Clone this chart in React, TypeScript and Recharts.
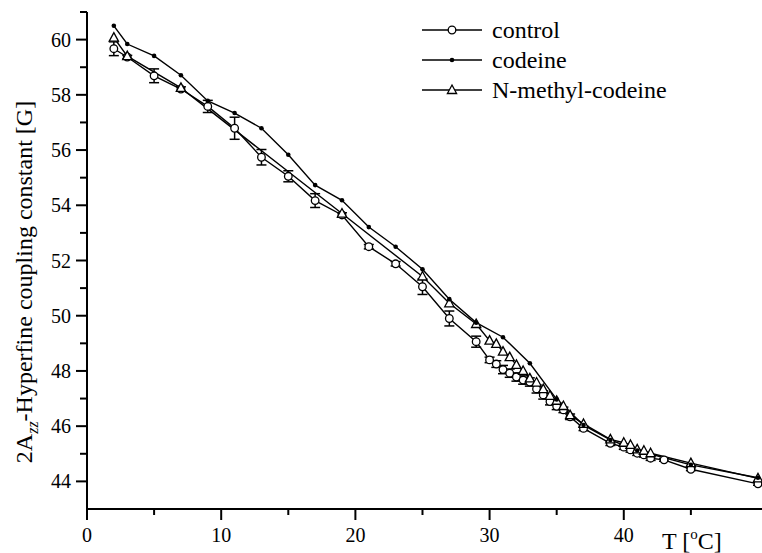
import React from 'react';
import { LineChart, Line, XAxis, YAxis, ErrorBar, Legend } from 'recharts';

const controlT = [2, 3, 5, 7, 9, 11, 13, 15, 17, 19, 21, 23, 25, 27, 29, 30, 30.5, 31, 31.5, 32, 32.5, 33, 33.5, 34, 34.5, 35, 35.5, 36, 37, 39, 40, 40.5, 41, 41.5, 42, 43, 45, 50];
const controlV = [59.67, 59.37, 58.69, 58.21, 57.58, 56.79, 55.74, 55.05, 54.17, 53.65, 52.5, 51.88, 51.05, 49.9, 49.06, 48.4, 48.25, 48.05, 47.92, 47.78, 47.67, 47.6, 47.35, 47.13, 46.89, 46.72, 46.59, 46.34, 45.92, 45.38, 45.24, 45.14, 45.02, 44.96, 44.84, 44.78, 44.44, 43.91];
const controlErr = [0.25, 0.06, 0.25, 0.08, 0.22, 0.4, 0.28, 0.2, 0.25, 0.08, 0.08, 0.08, 0.28, 0.27, 0.2, 0.1, 0.12, 0.15, 0.15, 0.15, 0.15, 0.15, 0.15, 0.15, 0.12, 0.12, 0.1, 0.1, 0.08, 0.08, 0.08, 0.08, 0.08, 0.08, 0.08, 0.05, 0.05, 0.05];

const codeineT = [2, 3, 5, 7, 9, 11, 13, 15, 17, 19, 21, 23, 25, 27, 29, 31, 33, 35, 37, 39, 41, 45, 50];
const codeineV = [60.5, 59.84, 59.41, 58.71, 57.78, 57.34, 56.79, 55.83, 54.73, 54.18, 53.21, 52.5, 51.68, 50.6, 49.75, 49.22, 48.28, 46.97, 46.04, 45.5, 45.12, 44.6, 44.13];

const nmT = [2, 3, 7, 19, 25, 27, 29, 30, 30.5, 31, 31.5, 32, 32.5, 33, 33.5, 34, 34.5, 35, 35.5, 36, 37, 39, 40, 40.5, 41, 41.5, 42, 45, 50];
const nmV = [60.07, 59.4, 58.25, 53.7, 51.42, 50.45, 49.7, 49.1, 48.98, 48.7, 48.5, 48.22, 48.0, 47.73, 47.58, 47.34, 47.1, 46.92, 46.73, 46.4, 46.08, 45.52, 45.4, 45.32, 45.16, 45.11, 45.02, 44.66, 44.11];

const xTicks = [0, 5, 10, 15, 20, 25, 30, 35, 40, 45];
const yTicks = [44, 45, 46, 47, 48, 49, 50, 51, 52, 53, 54, 55, 56, 57, 58, 59, 60, 61];

const controlData = controlT.map((t, i) => ({ t, v: controlV[i], err: controlErr[i] }));
const codeineData = codeineT.map((t, i) => ({ t, v: codeineV[i] }));
const nmData = nmT.map((t, i) => ({ t, v: nmV[i] }));

const serif = { fontFamily: 'Liberation Serif, Times New Roman, serif' };

const OpenCircle = ({ cx, cy, r = 3.8 }: any) => (
  <circle cx={cx} cy={cy} r={r} fill="#fff" stroke="#000" strokeWidth={1.3} />
);
const FilledDot = ({ cx, cy, r = 2.3 }: any) => <circle cx={cx} cy={cy} r={r} fill="#000" />;
const OpenTriangle = ({ cx, cy }: any) => (
  <path
    d={`M${cx},${cy - 5} L${cx + 4.6},${cy + 3.5} L${cx - 4.6},${cy + 3.5} Z`}
    fill="#fff"
    stroke="#000"
    strokeWidth={1.3}
  />
);

const XTick = ({ x, y, payload }: any) => {
  const major = payload.value % 10 === 0;
  return (
    <g>
      <line x1={x} y1={y} x2={x} y2={y + (major ? 11 : 6)} stroke="#000" strokeWidth={2} />
      {major && (
        <text x={x} y={y + 33} textAnchor="middle" fontSize={20} style={serif} fill="#000">
          {payload.value}
        </text>
      )}
    </g>
  );
};

const YTick = ({ x, y, payload }: any) => {
  const major = payload.value % 2 === 0;
  return (
    <g>
      <line x1={x - (major ? 11 : 7)} y1={y} x2={x} y2={y} stroke="#000" strokeWidth={2} />
      {major && (
        <text x={x - 16} y={y + 7} textAnchor="end" fontSize={20} style={serif} fill="#000">
          {payload.value}
        </text>
      )}
    </g>
  );
};

const XTitle = () => (
  <text x={662} y={549} fontSize={24} style={serif} fill="#000">
    T [<tspan fontSize={15} dy={-10}>o</tspan>
    <tspan dy={10}>C]</tspan>
  </text>
);

const YTitle = () => (
  <text
    x={0}
    y={0}
    transform="translate(32, 282) rotate(-90)"
    textAnchor="middle"
    fontSize={24}
    style={serif}
    fill="#000"
  >
    2A
    <tspan fontSize={16} fontStyle="italic" dy={6}>zz</tspan>
    <tspan dy={-6}>-Hyperfine coupling constant [G]</tspan>
  </text>
);

const legendRows = [
  { name: 'control', Marker: OpenCircle },
  { name: 'codeine', Marker: FilledDot },
  { name: 'N-methyl-codeine', Marker: OpenTriangle },
];

const LegendBox = () => (
  <svg width={300} height={100}>
    {legendRows.map((row, i) => {
      const y = 15 + i * 30;
      const M = row.Marker;
      return (
        <g key={row.name}>
          <line x1={7} y1={y} x2={67} y2={y} stroke="#000" strokeWidth={1.4} />
          <M cx={37} cy={y} />
          <text x={77} y={y + 8} fontSize={24} style={serif} fill="#000">
            {row.name}
          </text>
        </g>
      );
    })}
  </svg>
);

export default function App() {
  return (
    <div style={{ position: 'absolute', left: 0, top: 0, background: '#fff' }}>
      <LineChart width={762} height={553} margin={{ top: 12, right: 0, bottom: 0, left: 0 }}>
        <XAxis
          dataKey="t"
          type="number"
          domain={[0, 50.3]}
          allowDataOverflow
          ticks={xTicks}
          interval={0}
          tickLine={false}
          tickSize={0}
          tickMargin={0}
          height={44}
          axisLine={{ stroke: '#000', strokeWidth: 2 }}
          tick={<XTick />}
          label={{ content: <XTitle /> }}
        />
        <YAxis
          type="number"
          domain={[43, 61]}
          allowDataOverflow
          ticks={yTicks}
          interval={0}
          tickLine={false}
          tickSize={0}
          tickMargin={0}
          width={87}
          axisLine={{ stroke: '#000', strokeWidth: 2 }}
          tick={<YTick />}
          label={{ content: <YTitle /> }}
        />
        <Legend
          layout="vertical"
          align="center"
          verticalAlign="middle"
          content={<LegendBox />}
          wrapperStyle={{ top: 15, left: 415, width: 300, height: 100 }}
        />
        <Line
          data={controlData}
          dataKey="v"
          stroke="#000"
          strokeWidth={1.4}
          isAnimationActive={false}
          activeDot={false}
          dot={(p: any) => <OpenCircle key={`c${p.index}`} cx={p.cx} cy={p.cy} />}
        >
          <ErrorBar dataKey="err" direction="y" width={5} stroke="#000" strokeWidth={1.5} isAnimationActive={false} />
        </Line>
        <Line
          data={nmData}
          dataKey="v"
          stroke="#000"
          strokeWidth={1.4}
          isAnimationActive={false}
          activeDot={false}
          dot={(p: any) => <OpenTriangle key={`n${p.index}`} cx={p.cx} cy={p.cy} />}
        />
        <Line
          data={codeineData}
          dataKey="v"
          stroke="#000"
          strokeWidth={1.4}
          isAnimationActive={false}
          activeDot={false}
          dot={(p: any) => <FilledDot key={`d${p.index}`} cx={p.cx} cy={p.cy} />}
        />
      </LineChart>
    </div>
  );
}
